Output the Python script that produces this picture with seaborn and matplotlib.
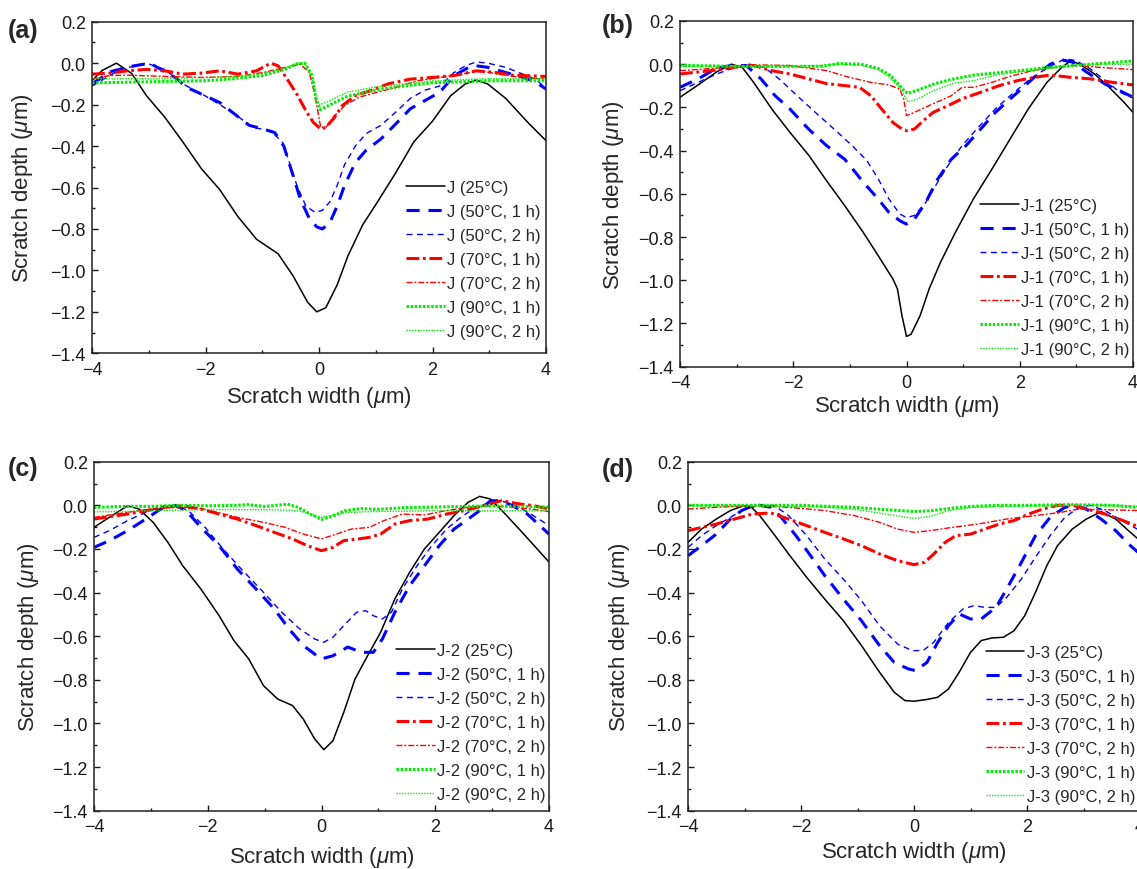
import matplotlib
matplotlib.use("Agg")
import matplotlib.pyplot as plt
import seaborn as sns
from matplotlib.ticker import MultipleLocator, FixedLocator, FuncFormatter

# ---------------- data ----------------
PREFIXES = ["J", "J-1", "J-2", "J-3"]
CONDITIONS = ["25°C", "50°C, 1 h", "50°C, 2 h", "70°C, 1 h", "70°C, 2 h",
              "90°C, 1 h", "90°C, 2 h"]
X_TICKS = [-4, -2, 0, 2, 4]
Y_TICKS = [0.2, 0.0, -0.2, -0.4, -0.6, -0.8, -1.0, -1.2, -1.4]

# ---- panel (a): J ----
A_25C_X = [-4.0, -3.82, -3.57, -3.30, -3.04, -2.72, -2.40, -2.07, -1.75, -1.43, -1.10, -0.72, -0.46, -0.20, -0.04, 0.12, 0.32, 0.51, 0.77, 1.03, 1.35, 1.67, 2.00, 2.32, 2.58, 2.77, 2.97, 3.29, 3.68, 4.0]
A_25C_Y = [-0.085, -0.035, 0.0, -0.05, -0.157, -0.26, -0.38, -0.51, -0.61, -0.74, -0.85, -0.92, -1.025, -1.154, -1.20, -1.18, -1.07, -0.93, -0.78, -0.67, -0.53, -0.38, -0.28, -0.157, -0.10, -0.082, -0.10, -0.17, -0.286, -0.374]
A_50C1_X = [-4.0, -3.66, -3.3, -2.98, -2.53, -2.33, -2.01, -1.75, -1.49, -1.23, -0.98, -0.78, -0.62, -0.46, -0.33, -0.17, -0.04, 0.06, 0.19, 0.32, 0.45, 0.64, 0.83, 1.09, 1.35, 1.61, 1.87, 2.13, 2.38, 2.64, 2.77, 2.97, 3.29, 3.61, 3.81, 4.0]
A_50C1_Y = [-0.10, -0.04, -0.015, 0.0, -0.07, -0.117, -0.157, -0.19, -0.245, -0.30, -0.318, -0.335, -0.40, -0.54, -0.655, -0.75, -0.79, -0.80, -0.77, -0.69, -0.59, -0.48, -0.42, -0.366, -0.294, -0.22, -0.18, -0.14, -0.06, -0.02, -0.013, -0.02, -0.045, -0.07, -0.09, -0.125]
A_50C2_X = [-4.0, -3.5, -3.04, -2.72, -2.40, -2.01, -1.75, -1.49, -1.17, -0.85, -0.65, -0.52, -0.39, -0.23, -0.07, 0.06, 0.19, 0.32, 0.45, 0.64, 0.83, 1.09, 1.35, 1.61, 1.87, 2.13, 2.38, 2.58, 2.77, 2.97, 3.29, 3.61, 3.81, 4.0]
A_50C2_Y = [-0.11, -0.03, 0.0, -0.03, -0.10, -0.157, -0.20, -0.245, -0.31, -0.326, -0.38, -0.48, -0.59, -0.69, -0.72, -0.71, -0.67, -0.59, -0.49, -0.40, -0.34, -0.30, -0.237, -0.17, -0.13, -0.11, -0.045, -0.013, 0.006, 0.0, -0.02, -0.055, -0.077, -0.12]
A_70C1_X = [-4.0, -3.69, -3.37, -3.04, -2.72, -2.40, -2.07, -1.75, -1.43, -1.10, -0.85, -0.72, -0.56, -0.39, -0.23, -0.10, 0.03, 0.12, 0.25, 0.41, 0.64, 0.90, 1.22, 1.61, 2.00, 2.38, 2.77, 3.10, 3.42, 4.0]
A_70C1_Y = [-0.053, -0.048, -0.037, -0.03, -0.037, -0.053, -0.048, -0.037, -0.053, -0.037, 0.0, -0.013, -0.077, -0.15, -0.23, -0.286, -0.318, -0.31, -0.27, -0.205, -0.157, -0.133, -0.10, -0.077, -0.069, -0.06, -0.037, -0.045, -0.058, -0.064]
A_70C2_X = [-4.0, -3.69, -3.37, -2.72, -2.07, -1.43, -0.98, -0.59, -0.33, -0.17, -0.07, 0.03, 0.12, 0.25, 0.45, 0.70, 1.03, 1.35, 1.74, 2.13, 2.51, 2.84, 3.16, 3.55, 4.0]
A_70C2_Y = [-0.077, -0.06, -0.058, -0.064, -0.069, -0.064, -0.045, -0.02, -0.005, -0.045, -0.157, -0.31, -0.31, -0.26, -0.205, -0.165, -0.14, -0.117, -0.085, -0.069, -0.053, -0.037, -0.053, -0.069, -0.077]
A_90C1_X = [-4.0, -3.0, -2.0, -1.5, -1.0, -0.6, -0.4, -0.25, -0.12, -0.05, 0.02, 0.2, 0.5, 1.0, 1.5, 2.0, 2.5, 3.0, 3.5, 4.0]
A_90C1_Y = [-0.095, -0.09, -0.085, -0.075, -0.06, -0.03, -0.005, 0.0, -0.06, -0.18, -0.225, -0.20, -0.16, -0.13, -0.11, -0.095, -0.09, -0.085, -0.085, -0.085]
A_90C2_X = [-4.0, -3.0, -2.0, -1.5, -1.0, -0.6, -0.4, -0.25, -0.12, -0.05, 0.02, 0.2, 0.5, 1.0, 1.5, 2.0, 2.5, 3.0, 3.5, 4.0]
A_90C2_Y = [-0.075, -0.075, -0.07, -0.065, -0.05, -0.025, 0.0, 0.0, -0.07, -0.17, -0.20, -0.18, -0.14, -0.115, -0.10, -0.085, -0.08, -0.075, -0.075, -0.075]

# ---- panel (b): J-1 ----
B_25C_X = [-4.0, -3.68, -3.35, -3.09, -2.90, -2.70, -2.38, -2.06, -1.73, -1.41, -1.09, -0.76, -0.50, -0.24, -0.16, -0.08, 0.0, 0.08, 0.24, 0.40, 0.60, 0.86, 1.18, 1.51, 1.83, 2.15, 2.48, 2.74, 2.90, 3.06, 3.32, 3.58, 3.84, 4.0]
B_25C_Y = [-0.153, -0.096, -0.035, 0.0, -0.015, -0.084, -0.207, -0.315, -0.42, -0.54, -0.655, -0.78, -0.886, -0.994, -1.04, -1.164, -1.26, -1.25, -1.164, -1.04, -0.917, -0.78, -0.624, -0.485, -0.346, -0.207, -0.084, -0.015, 0.016, 0.0, -0.045, -0.107, -0.176, -0.223]
B_50C1_X = [-4.0, -3.68, -3.35, -3.09, -2.83, -2.57, -2.32, -2.06, -1.73, -1.41, -1.09, -0.76, -0.50, -0.31, -0.12, 0.0, 0.14, 0.34, 0.53, 0.79, 1.05, 1.31, 1.57, 1.83, 2.09, 2.35, 2.54, 2.74, 2.93, 3.19, 3.51, 3.77, 4.0]
B_50C1_Y = [-0.107, -0.068, -0.018, -0.006, -0.006, -0.068, -0.146, -0.207, -0.30, -0.377, -0.44, -0.547, -0.624, -0.686, -0.724, -0.74, -0.717, -0.64, -0.54, -0.44, -0.377, -0.30, -0.223, -0.161, -0.10, -0.038, 0.0, 0.02, 0.01, -0.038, -0.092, -0.123, -0.153]
B_50C2_X = [-4.0, -3.68, -3.35, -3.03, -2.77, -2.51, -2.25, -1.93, -1.61, -1.28, -0.96, -0.70, -0.50, -0.31, -0.12, 0.0, 0.14, 0.34, 0.53, 0.73, 0.98, 1.24, 1.57, 1.83, 2.15, 2.41, 2.61, 2.80, 2.99, 3.25, 3.51, 3.77, 4.0]
B_50C2_Y = [-0.123, -0.084, -0.045, -0.015, 0.0, -0.015, -0.068, -0.146, -0.223, -0.30, -0.377, -0.446, -0.53, -0.624, -0.693, -0.71, -0.70, -0.64, -0.555, -0.47, -0.377, -0.30, -0.207, -0.146, -0.076, -0.03, 0.0, 0.025, 0.017, -0.022, -0.076, -0.13, -0.156]
B_70C1_X = [-4.0, -3.35, -3.03, -2.70, -2.38, -2.06, -1.73, -1.41, -1.09, -0.83, -0.63, -0.44, -0.24, -0.08, 0.01, 0.14, 0.30, 0.47, 0.73, 0.98, 1.31, 1.64, 1.96, 2.28, 2.54, 2.87, 3.25, 3.64, 4.0]
B_70C1_Y = [-0.045, -0.027, -0.014, -0.006, -0.03, -0.045, -0.068, -0.09, -0.099, -0.107, -0.146, -0.207, -0.27, -0.30, -0.308, -0.30, -0.261, -0.223, -0.192, -0.16, -0.13, -0.099, -0.076, -0.06, -0.05, -0.06, -0.068, -0.084, -0.096]
B_70C2_X = [-4.0, -3.35, -2.70, -2.06, -1.41, -1.02, -0.63, -0.31, -0.12, -0.05, 0.0, 0.08, 0.27, 0.53, 0.79, 0.98, 1.18, 1.51, 1.83, 2.22, 2.61, 2.99, 3.38, 4.0]
B_70C2_Y = [-0.03, -0.018, -0.003, -0.006, -0.03, -0.06, -0.084, -0.096, -0.115, -0.16, -0.238, -0.23, -0.207, -0.176, -0.146, -0.107, -0.107, -0.084, -0.056, -0.03, -0.014, -0.006, -0.014, -0.025]
B_90C1_X = [-4.0, -3.0, -2.0, -1.5, -1.2, -0.8, -0.5, -0.3, -0.15, -0.05, 0.02, 0.2, 0.5, 0.8, 1.2, 1.6, 2.0, 2.5, 3.0, 3.5, 4.0]
B_90C1_Y = [-0.005, -0.01, -0.01, -0.01, 0.003, 0.0, -0.02, -0.05, -0.09, -0.12, -0.135, -0.12, -0.09, -0.07, -0.05, -0.04, -0.03, -0.015, -0.005, 0.005, 0.015]
B_90C2_X = [-4.0, -3.0, -2.0, -1.5, -1.2, -0.8, -0.5, -0.3, -0.15, -0.05, 0.02, 0.2, 0.5, 0.8, 1.2, 1.6, 2.0, 2.5, 3.0, 3.5, 4.0]
B_90C2_Y = [-0.01, -0.01, -0.01, -0.005, 0.0, -0.005, -0.025, -0.06, -0.10, -0.14, -0.175, -0.16, -0.12, -0.09, -0.075, -0.05, -0.035, -0.02, -0.005, 0.0, 0.0]

# ---- panel (c): J-2 ----
C_25C_X = [-4.0, -3.73, -3.41, -3.21, -2.96, -2.70, -2.44, -2.12, -1.80, -1.54, -1.28, -1.02, -0.77, -0.51, -0.32, -0.12, 0.04, 0.20, 0.39, 0.59, 0.78, 1.04, 1.29, 1.55, 1.81, 2.07, 2.33, 2.58, 2.78, 2.97, 3.23, 3.49, 3.74, 4.0]
C_25C_Y = [-0.101, -0.055, -0.002, -0.017, -0.078, -0.17, -0.277, -0.384, -0.506, -0.62, -0.704, -0.827, -0.888, -0.918, -0.98, -1.071, -1.12, -1.08, -0.95, -0.796, -0.704, -0.582, -0.429, -0.307, -0.20, -0.124, -0.047, 0.014, 0.041, 0.029, -0.04, -0.113, -0.185, -0.26]
C_50C1_X = [-4.0, -3.73, -3.41, -3.09, -2.83, -2.57, -2.38, -2.12, -1.80, -1.48, -1.15, -0.83, -0.57, -0.32, -0.12, 0.0, 0.20, 0.46, 0.71, 0.91, 1.07, 1.29, 1.55, 1.81, 2.07, 2.33, 2.58, 2.78, 2.97, 3.16, 3.36, 3.62, 4.0]
C_50C1_Y = [-0.193, -0.162, -0.116, -0.063, -0.017, 0.0, -0.024, -0.101, -0.185, -0.292, -0.384, -0.475, -0.567, -0.643, -0.682, -0.704, -0.69, -0.65, -0.674, -0.674, -0.613, -0.49, -0.368, -0.277, -0.185, -0.109, -0.063, -0.024, 0.021, 0.021, -0.002, -0.04, -0.132]
C_50C2_X = [-4.0, -3.73, -3.41, -3.09, -2.76, -2.51, -2.31, -2.05, -1.73, -1.41, -1.02, -0.70, -0.38, -0.12, 0.04, 0.20, 0.39, 0.62, 0.78, 0.91, 1.07, 1.23, 1.42, 1.68, 1.94, 2.20, 2.45, 2.71, 2.97, 3.16, 3.42, 3.68, 4.0]
C_50C2_Y = [-0.147, -0.116, -0.07, -0.032, -0.002, -0.002, -0.032, -0.10, -0.20, -0.292, -0.399, -0.49, -0.567, -0.613, -0.628, -0.605, -0.552, -0.49, -0.483, -0.506, -0.521, -0.49, -0.384, -0.277, -0.185, -0.109, -0.055, -0.009, 0.014, 0.021, -0.002, -0.04, -0.093]
C_70C1_X = [-4.0, -3.41, -2.76, -2.44, -2.12, -1.80, -1.48, -1.15, -0.83, -0.51, -0.25, 0.0, 0.20, 0.39, 0.65, 0.84, 1.04, 1.29, 1.55, 1.87, 2.20, 2.52, 2.84, 3.16, 3.49, 3.74, 4.0]
C_70C1_Y = [-0.063, -0.04, -0.009, -0.002, -0.017, -0.04, -0.063, -0.093, -0.124, -0.154, -0.185, -0.208, -0.193, -0.162, -0.154, -0.147, -0.132, -0.086, -0.07, -0.063, -0.04, -0.024, -0.002, 0.021, 0.006, -0.002, -0.017]
C_70C2_X = [-4.0, -3.41, -2.76, -2.12, -1.48, -1.02, -0.64, -0.32, 0.0, 0.26, 0.52, 0.84, 1.10, 1.42, 1.81, 2.20, 2.58, 2.97, 3.36, 3.68, 4.0]
C_70C2_Y = [-0.055, -0.032, -0.009, -0.014, -0.055, -0.078, -0.101, -0.132, -0.154, -0.132, -0.109, -0.101, -0.07, -0.04, -0.044, -0.024, -0.009, -0.002, -0.009, -0.017, -0.029]
C_90C1_X = [-4.0, -3.5, -3.0, -2.5, -2.0, -1.5, -1.3, -1.0, -0.6, -0.4, -0.2, 0.0, 0.2, 0.4, 0.7, 1.0, 1.5, 2.0, 2.5, 3.0, 3.5, 4.0]
C_90C1_Y = [-0.01, -0.005, -0.005, 0.0, -0.002, 0.0, 0.003, -0.005, 0.005, -0.01, -0.04, -0.065, -0.05, -0.025, -0.015, -0.018, -0.01, -0.008, -0.005, -0.003, -0.005, -0.008]
C_90C2_X = [-4.0, -3.5, -3.0, -2.5, -2.0, -1.5, -1.3, -1.0, -0.6, -0.4, -0.2, 0.0, 0.2, 0.4, 0.7, 1.0, 1.5, 2.0, 2.5, 3.0, 3.5, 4.0]
C_90C2_Y = [-0.03, -0.028, -0.025, -0.022, -0.02, -0.02, -0.02, -0.02, -0.022, -0.025, -0.04, -0.055, -0.045, -0.035, -0.03, -0.028, -0.027, -0.025, -0.025, -0.025, -0.025, -0.025]

# ---- panel (d): J-3 ----
D_25C_X = [-4.0, -3.76, -3.50, -3.25, -3.02, -2.89, -2.73, -2.48, -2.22, -1.90, -1.58, -1.25, -0.93, -0.61, -0.35, -0.16, 0.0, 0.23, 0.42, 0.61, 0.80, 1.00, 1.19, 1.38, 1.58, 1.77, 1.96, 2.15, 2.35, 2.54, 2.80, 3.05, 3.31, 3.57, 3.83, 4.0]
D_25C_Y = [-0.17, -0.109, -0.063, -0.024, -0.002, -0.005, -0.047, -0.132, -0.223, -0.33, -0.43, -0.529, -0.643, -0.765, -0.857, -0.895, -0.898, -0.89, -0.88, -0.842, -0.765, -0.674, -0.62, -0.608, -0.605, -0.575, -0.506, -0.399, -0.277, -0.185, -0.109, -0.063, -0.029, -0.063, -0.124, -0.162]
D_50C1_X = [-4.0, -3.76, -3.50, -3.25, -3.05, -2.92, -2.73, -2.53, -2.35, -2.09, -1.83, -1.58, -1.25, -0.93, -0.61, -0.35, -0.10, 0.03, 0.23, 0.42, 0.61, 0.80, 1.00, 1.19, 1.45, 1.64, 1.90, 2.15, 2.41, 2.67, 2.86, 3.05, 3.31, 3.57, 3.83, 4.0]
D_50C1_Y = [-0.231, -0.185, -0.132, -0.063, -0.024, -0.009, 0.0, -0.009, -0.055, -0.139, -0.231, -0.322, -0.43, -0.529, -0.643, -0.72, -0.75, -0.758, -0.72, -0.628, -0.552, -0.498, -0.521, -0.521, -0.468, -0.384, -0.262, -0.139, -0.055, -0.009, 0.0, -0.017, -0.063, -0.116, -0.185, -0.223]
D_50C2_X = [-4.0, -3.76, -3.50, -3.25, -2.99, -2.73, -2.48, -2.22, -1.90, -1.58, -1.25, -0.93, -0.61, -0.29, -0.03, 0.16, 0.35, 0.61, 0.87, 1.06, 1.26, 1.45, 1.64, 1.90, 2.15, 2.41, 2.67, 2.92, 3.12, 3.38, 3.63, 4.0]
D_50C2_Y = [-0.193, -0.139, -0.093, -0.055, -0.017, 0.0, 0.0, -0.047, -0.139, -0.246, -0.338, -0.437, -0.552, -0.636, -0.666, -0.666, -0.628, -0.537, -0.475, -0.46, -0.468, -0.468, -0.422, -0.338, -0.238, -0.139, -0.055, -0.009, 0.0, -0.024, -0.063, -0.116]
D_70C1_X = [-4.0, -3.50, -3.18, -2.86, -2.53, -2.22, -1.90, -1.58, -1.25, -0.93, -0.61, -0.29, 0.0, 0.19, 0.35, 0.55, 0.74, 1.00, 1.25, 1.51, 1.77, 2.03, 2.28, 2.54, 2.80, 3.05, 3.38, 3.70, 4.0]
D_70C1_Y = [-0.116, -0.086, -0.063, -0.04, -0.035, -0.063, -0.093, -0.124, -0.154, -0.185, -0.223, -0.254, -0.272, -0.261, -0.223, -0.17, -0.139, -0.132, -0.109, -0.086, -0.07, -0.04, -0.017, 0.0, 0.0, -0.017, -0.04, -0.07, -0.101]
D_70C2_X = [-4.0, -3.50, -2.86, -2.22, -1.58, -1.06, -0.61, -0.29, 0.0, 0.29, 0.68, 1.13, 1.64, 2.15, 2.60, 2.92, 3.31, 4.0]
D_70C2_Y = [-0.017, -0.009, -0.002, -0.009, -0.024, -0.047, -0.078, -0.109, -0.124, -0.116, -0.101, -0.086, -0.063, -0.047, -0.032, -0.017, -0.02, -0.024]
D_90C1_X = [-4.0, -3.0, -2.0, -1.5, -1.0, -0.5, 0.0, 0.3, 0.6, 1.0, 1.5, 2.0, 2.8, 3.5, 4.0]
D_90C1_Y = [0.0, 0.0, 0.0, -0.005, -0.01, -0.02, -0.028, -0.025, -0.015, -0.005, 0.0, 0.0, 0.003, 0.0, -0.01]
D_90C2_X = [-4.0, -3.0, -2.0, -1.5, -1.0, -0.5, 0.0, 0.3, 0.6, 1.0, 1.5, 2.0, 2.8, 3.5, 4.0]
D_90C2_Y = [0.0, 0.0, -0.005, -0.01, -0.02, -0.04, -0.06, -0.05, -0.025, -0.01, -0.005, -0.003, 0.0, 0.0, -0.005]

SERIES = {
    "a": [(A_25C_X, A_25C_Y), (A_50C1_X, A_50C1_Y), (A_50C2_X, A_50C2_Y),
          (A_70C1_X, A_70C1_Y), (A_70C2_X, A_70C2_Y), (A_90C1_X, A_90C1_Y), (A_90C2_X, A_90C2_Y)],
    "b": [(B_25C_X, B_25C_Y), (B_50C1_X, B_50C1_Y), (B_50C2_X, B_50C2_Y),
          (B_70C1_X, B_70C1_Y), (B_70C2_X, B_70C2_Y), (B_90C1_X, B_90C1_Y), (B_90C2_X, B_90C2_Y)],
    "c": [(C_25C_X, C_25C_Y), (C_50C1_X, C_50C1_Y), (C_50C2_X, C_50C2_Y),
          (C_70C1_X, C_70C1_Y), (C_70C2_X, C_70C2_Y), (C_90C1_X, C_90C1_Y), (C_90C2_X, C_90C2_Y)],
    "d": [(D_25C_X, D_25C_Y), (D_50C1_X, D_50C1_Y), (D_50C2_X, D_50C2_Y),
          (D_70C1_X, D_70C1_Y), (D_70C2_X, D_70C2_Y), (D_90C1_X, D_90C1_Y), (D_90C2_X, D_90C2_Y)],
}

# ---------------- styling ----------------
BLUE, RED, GREEN = "#0000ff", "#ff0000", "#00ee00"
STYLES = [
    dict(color="black", lw=1.1, ls="-"),
    dict(color=BLUE, lw=2.2, ls=(0, (4.3, 2.9))),
    dict(color=BLUE, lw=1.0, ls=(0, (4.3, 3.2))),
    dict(color=RED, lw=2.2, ls=(0, (4.2, 1.2, 0.9, 1.2))),
    dict(color=RED, lw=1.0, ls=(0, (4.3, 1.4, 1.4, 1.4))),
    dict(color=GREEN, lw=2.2, ls=(0, (0.8, 0.55))),
    dict(color=GREEN, lw=1.0, ls=(0, (1.0, 1.0))),
]

W, H = 1137, 870
AX_PX = {  # left, top, right, bottom in pixels
    "a": (92, 22.7, 546, 354.3),
    "b": (680, 22.0, 1133, 367.7),
    "c": (94, 462.7, 549, 811.7),
    "d": (688, 462.7, 1140, 811.7),
}
PANEL_LABEL_PX = {"a": (8, 31), "b": (602, 26), "c": (8, 469), "d": (602, 470)}
YLABEL_X = {"a": -0.154, "b": -0.146, "c": -0.143, "d": -0.151}
XLABEL_Y = {"a": -0.13, "b": -0.113, "c": -0.132, "d": -0.117}
LEGEND_ANCHOR = {"a": (0.989, 0.522), "b": (0.993, 0.489), "c": (0.993, 0.481), "d": (0.990, 0.475)}

sns.set_theme(style="ticks")
plt.rcParams["font.family"] = ["Liberation Sans", "DejaVu Sans"]
plt.rcParams["mathtext.fontset"] = "custom"
plt.rcParams["mathtext.rm"] = "Liberation Sans"
plt.rcParams["mathtext.it"] = "Liberation Sans:italic"
plt.rcParams["axes.unicode_minus"] = True


def fmt_y(v, pos):
    v = round(v, 1)
    if abs(v) < 1e-9:
        v = 0.0
    return f"{v:.1f}".replace("-", "\u2212")


def fmt_x(v, pos):
    v = int(round(v))
    return str(v).replace("-", "\u2212")


fig = plt.figure(figsize=(W / 100, H / 100), dpi=100)
fig.patch.set_facecolor("white")

for p, prefix in zip(["a", "b", "c", "d"], PREFIXES):
    l, t, r, b = AX_PX[p]
    ax = fig.add_axes([l / W, 1 - b / H, (r - l) / W, (b - t) / H])
    ax.set_facecolor("white")
    for (xs, ys), st, cond in zip(SERIES[p], STYLES, CONDITIONS):
        sns.lineplot(x=xs, y=ys, ax=ax, color=st["color"], linewidth=st["lw"],
                     linestyle=st["ls"], estimator=None, sort=False,
                     label=f"{prefix} ({cond})")
    ax.set_xlim(-4, 4)
    ax.set_ylim(-1.4, 0.2)
    ax.xaxis.set_major_locator(FixedLocator(X_TICKS))
    ax.yaxis.set_major_locator(FixedLocator(Y_TICKS))
    ax.xaxis.set_minor_locator(MultipleLocator(1))
    ax.yaxis.set_minor_locator(MultipleLocator(0.1))
    ax.xaxis.set_major_formatter(FuncFormatter(fmt_x))
    ax.yaxis.set_major_formatter(FuncFormatter(fmt_y))
    ax.tick_params(which="both", direction="in", top=False, right=False,
                   colors="#1a1a1a", width=1.0)
    ax.tick_params(which="major", length=4.5, labelsize=13)
    ax.tick_params(axis="x", which="major", pad=5.5)
    ax.tick_params(axis="y", which="major", pad=4.5)
    ax.tick_params(which="minor", length=2.5)
    for s in ax.spines.values():
        s.set_linewidth(1.1)
        s.set_color("#222222")
        s.set_visible(True)
    ax.set_xlabel(r"Scratch width ($\mu$m)", fontsize=16)
    ax.set_ylabel(r"Scratch depth ($\mu$m)", fontsize=16)
    ax.xaxis.set_label_coords(0.5, XLABEL_Y[p])
    ax.yaxis.set_label_coords(YLABEL_X[p], 0.5)
    ax.xaxis.label.set_va("center")
    ax.yaxis.label.set_va("center")
    handles, labels = ax.get_legend_handles_labels()
    ax.legend(handles, labels, loc="upper right", bbox_to_anchor=LEGEND_ANCHOR[p],
              frameon=False, fontsize=12, handlelength=2.3, handletextpad=0.15,
              labelspacing=0.54, borderaxespad=0, borderpad=0)
    lx, ly = PANEL_LABEL_PX[p]
    fig.text(lx / W, 1 - ly / H, f"({p})", fontsize=18, fontweight="bold",
             ha="left", va="center")

fig.savefig("out.png", dpi=100, facecolor="white")
